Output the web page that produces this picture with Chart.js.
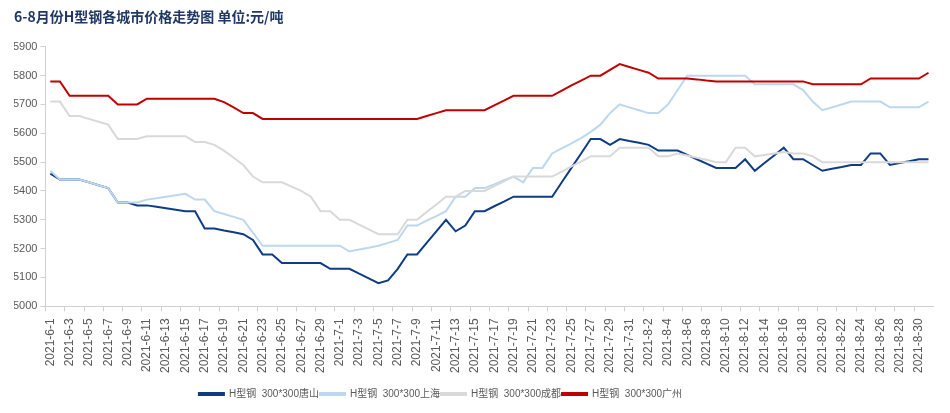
<!DOCTYPE html>
<html>
<head>
<meta charset="utf-8">
<script src="https://cdn.jsdelivr.net/npm/chart.js@4.4.1/dist/chart.umd.min.js"></script>
<style>
  html, body { margin: 0; padding: 0; background: #fff; }
  #wrap { width: 950px; height: 413px; }
</style>
</head>
<body>
<div id="wrap"><canvas id="chart"></canvas></div>
<script>
const titleText = '6-8月份H型钢各城市价格走势图 单位:元/吨'

const dates = [
  '2021-6-1', '2021-6-2', '2021-6-3', '2021-6-4', '2021-6-5', '2021-6-6', '2021-6-7', '2021-6-8', '2021-6-9', '2021-6-10',
  '2021-6-11', '2021-6-12', '2021-6-13', '2021-6-14', '2021-6-15', '2021-6-16', '2021-6-17', '2021-6-18', '2021-6-19', '2021-6-20',
  '2021-6-21', '2021-6-22', '2021-6-23', '2021-6-24', '2021-6-25', '2021-6-26', '2021-6-27', '2021-6-28', '2021-6-29', '2021-6-30',
  '2021-7-1', '2021-7-2', '2021-7-3', '2021-7-4', '2021-7-5', '2021-7-6', '2021-7-7', '2021-7-8', '2021-7-9', '2021-7-10',
  '2021-7-11', '2021-7-12', '2021-7-13', '2021-7-14', '2021-7-15', '2021-7-16', '2021-7-17', '2021-7-18', '2021-7-19', '2021-7-20',
  '2021-7-21', '2021-7-22', '2021-7-23', '2021-7-24', '2021-7-25', '2021-7-26', '2021-7-27', '2021-7-28', '2021-7-29', '2021-7-30',
  '2021-7-31', '2021-8-1', '2021-8-2', '2021-8-3', '2021-8-4', '2021-8-5', '2021-8-6', '2021-8-7', '2021-8-8', '2021-8-9',
  '2021-8-10', '2021-8-11', '2021-8-12', '2021-8-13', '2021-8-14', '2021-8-15', '2021-8-16', '2021-8-17', '2021-8-18', '2021-8-19',
  '2021-8-20', '2021-8-21', '2021-8-22', '2021-8-23', '2021-8-24', '2021-8-25', '2021-8-26', '2021-8-27', '2021-8-28', '2021-8-29',
  '2021-8-30', '2021-8-31'
]

// 唐山
const tangshan = [
  5460, 5440, 5440, 5440, 5430, 5420, 5410, 5360, 5360, 5350,
  5350, 5345, 5340, 5335, 5330, 5330, 5270, 5270, 5263, 5257,
  5250, 5230, 5180, 5180, 5150, 5150, 5150, 5150, 5150, 5130,
  5130, 5130, 5113, 5097, 5080, 5090, 5130, 5180, 5180, 5220,
  5260, 5300, 5260, 5280, 5330, 5330, 5347, 5363, 5380, 5380,
  5380, 5380, 5380, 5430, 5480, 5530, 5580, 5580, 5560, 5580,
  5573, 5567, 5560, 5540, 5540, 5540, 5525, 5510, 5495, 5480,
  5480, 5480, 5510, 5470, 5497, 5523, 5550, 5510, 5510, 5490,
  5470, 5477, 5483, 5490, 5490, 5530, 5530, 5490, 5497, 5503,
  5510, 5510
]

// 上海
const shanghai = [
  5470, 5440, 5440, 5440, 5430, 5420, 5410, 5360, 5360, 5360,
  5370, 5375, 5380, 5385, 5390, 5370, 5370, 5330, 5320, 5310,
  5300, 5255, 5210, 5210, 5210, 5210, 5210, 5210, 5210, 5210,
  5210, 5190, 5197, 5203, 5210, 5220, 5230, 5280, 5280, 5297,
  5313, 5330, 5380, 5380, 5410, 5410, 5423, 5437, 5450, 5430,
  5480, 5480, 5530, 5548, 5565, 5583, 5605, 5630, 5670, 5700,
  5690, 5680, 5670, 5670, 5700, 5750, 5800, 5800, 5800, 5800,
  5800, 5800, 5800, 5770, 5770, 5770, 5770, 5770, 5750, 5710,
  5680, 5690, 5700, 5710, 5710, 5710, 5710, 5690, 5690, 5690,
  5690, 5710
]

// 成都
const chengdu = [
  5710, 5710, 5660, 5660, 5650, 5640, 5630, 5580, 5580, 5580,
  5590, 5590, 5590, 5590, 5590, 5570, 5570, 5560, 5540, 5515,
  5490, 5450, 5430, 5430, 5430, 5415, 5400, 5380, 5330, 5330,
  5300, 5300, 5283, 5267, 5250, 5250, 5250, 5300, 5300, 5327,
  5353, 5380, 5380, 5400, 5400, 5400, 5417, 5433, 5450, 5450,
  5450, 5450, 5450, 5467, 5485, 5502, 5520, 5520, 5520, 5550,
  5550, 5550, 5550, 5520, 5520, 5530, 5523, 5515, 5508, 5500,
  5500, 5550, 5550, 5520, 5525, 5530, 5535, 5530, 5530, 5520,
  5500, 5500, 5500, 5500, 5500, 5500, 5500, 5500, 5500, 5500,
  5500, 5500
]

// 广州
const guangzhou = [
  5780, 5780, 5730, 5730, 5730, 5730, 5730, 5700, 5700, 5700,
  5720, 5720, 5720, 5720, 5720, 5720, 5720, 5720, 5708, 5690,
  5670, 5670, 5650, 5650, 5650, 5650, 5650, 5650, 5650, 5650,
  5650, 5650, 5650, 5650, 5650, 5650, 5650, 5650, 5650, 5660,
  5670, 5680, 5680, 5680, 5680, 5680, 5697, 5713, 5730, 5730,
  5730, 5730, 5730, 5748, 5766, 5783, 5800, 5800, 5820, 5840,
  5830, 5820, 5810, 5790, 5790, 5790, 5790, 5787, 5783, 5780,
  5780, 5780, 5780, 5780, 5780, 5780, 5780, 5780, 5780, 5770,
  5770, 5770, 5770, 5770, 5770, 5790, 5790, 5790, 5790, 5790,
  5790, 5810
]

const seriesNames = ['H型钢  300*300唐山', 'H型钢  300*300上海', 'H型钢  300*300成都', 'H型钢  300*300广州']
const seriesColors = ['#0e3d84', '#bdd7ee', '#d9d9d9', '#c00000']
const seriesData = [tangshan, shanghai, chengdu, guangzhou]

const yTicks = { min: 5000, max: 5900, step: 100 }

const fontFamily = '"Liberation Sans", Arial, "Noto Sans CJK SC", sans-serif'
const axisColor = '#d0d0d0'

// excel draws later series on top, chart.js draws first on top -> reverse, and reverse legend back
const datasets = seriesNames.map((name, i) => ({
  label: name,
  data: seriesData[i],
  borderColor: seriesColors[i],
  backgroundColor: seriesColors[i],
  borderWidth: 2,
  pointRadius: 0,
  pointHoverRadius: 0,
  tension: 0,
  fill: false,
})).reverse()

// legend in the original sits a bit left of centre
const legendShift = {
  id: 'legendShift',
  afterLayout(chart) {
    if (chart.legend) chart.legend.right -= 68
  }
}

new Chart(document.getElementById('chart'), {
  type: 'line',
  data: { labels: dates, datasets },
  plugins: [legendShift],
  options: {
    responsive: true,
    maintainAspectRatio: false,
    animation: false,
    layout: { padding: { left: 14, right: 15, top: 0, bottom: 4 } },
    plugins: {
      tooltip: { enabled: false },
      title: {
        display: true,
        text: titleText,
        align: 'start',
        color: '#1f3864',
        font: { family: '"Noto Sans CJK SC", sans-serif', size: 14, weight: 'bold' },
        padding: { top: 8, bottom: 22 },
      },
      legend: {
        position: 'bottom',
        reverse: true,
        labels: {
          boxWidth: 25,
          boxHeight: 2,
          padding: 1,
          color: '#595959',
          font: { family: fontFamily, size: 10 },
        },
      },
    },
    scales: {
      x: {
        offset: true,
        afterFit(scale) { scale.height += 8 },
        grid: {
          offset: true,
          drawOnChartArea: false,
          tickLength: 5,
          tickColor: ctx => (ctx.index % 2 === 0 ? axisColor : 'rgba(0,0,0,0)'),
        },
        border: { color: axisColor },
        ticks: {
          autoSkip: false,
          maxRotation: 90,
          minRotation: 90,
          padding: 7,
          color: '#595959',
          font: { family: fontFamily, size: 12 },
          callback: function (value, index) {
            return index % 2 === 0 ? this.getLabelForValue(value) : ''
          },
        },
      },
      y: {
        min: yTicks.min,
        max: yTicks.max,
        afterFit(scale) { scale.width -= 4 },
        grid: { drawOnChartArea: false, tickLength: 5, tickColor: axisColor },
        border: { color: axisColor },
        ticks: {
          stepSize: yTicks.step,
          padding: 3,
          color: '#595959',
          font: { family: fontFamily, size: 11 },
          callback: value => String(value),
        },
      },
    },
  },
})
</script>
</body>
</html>
